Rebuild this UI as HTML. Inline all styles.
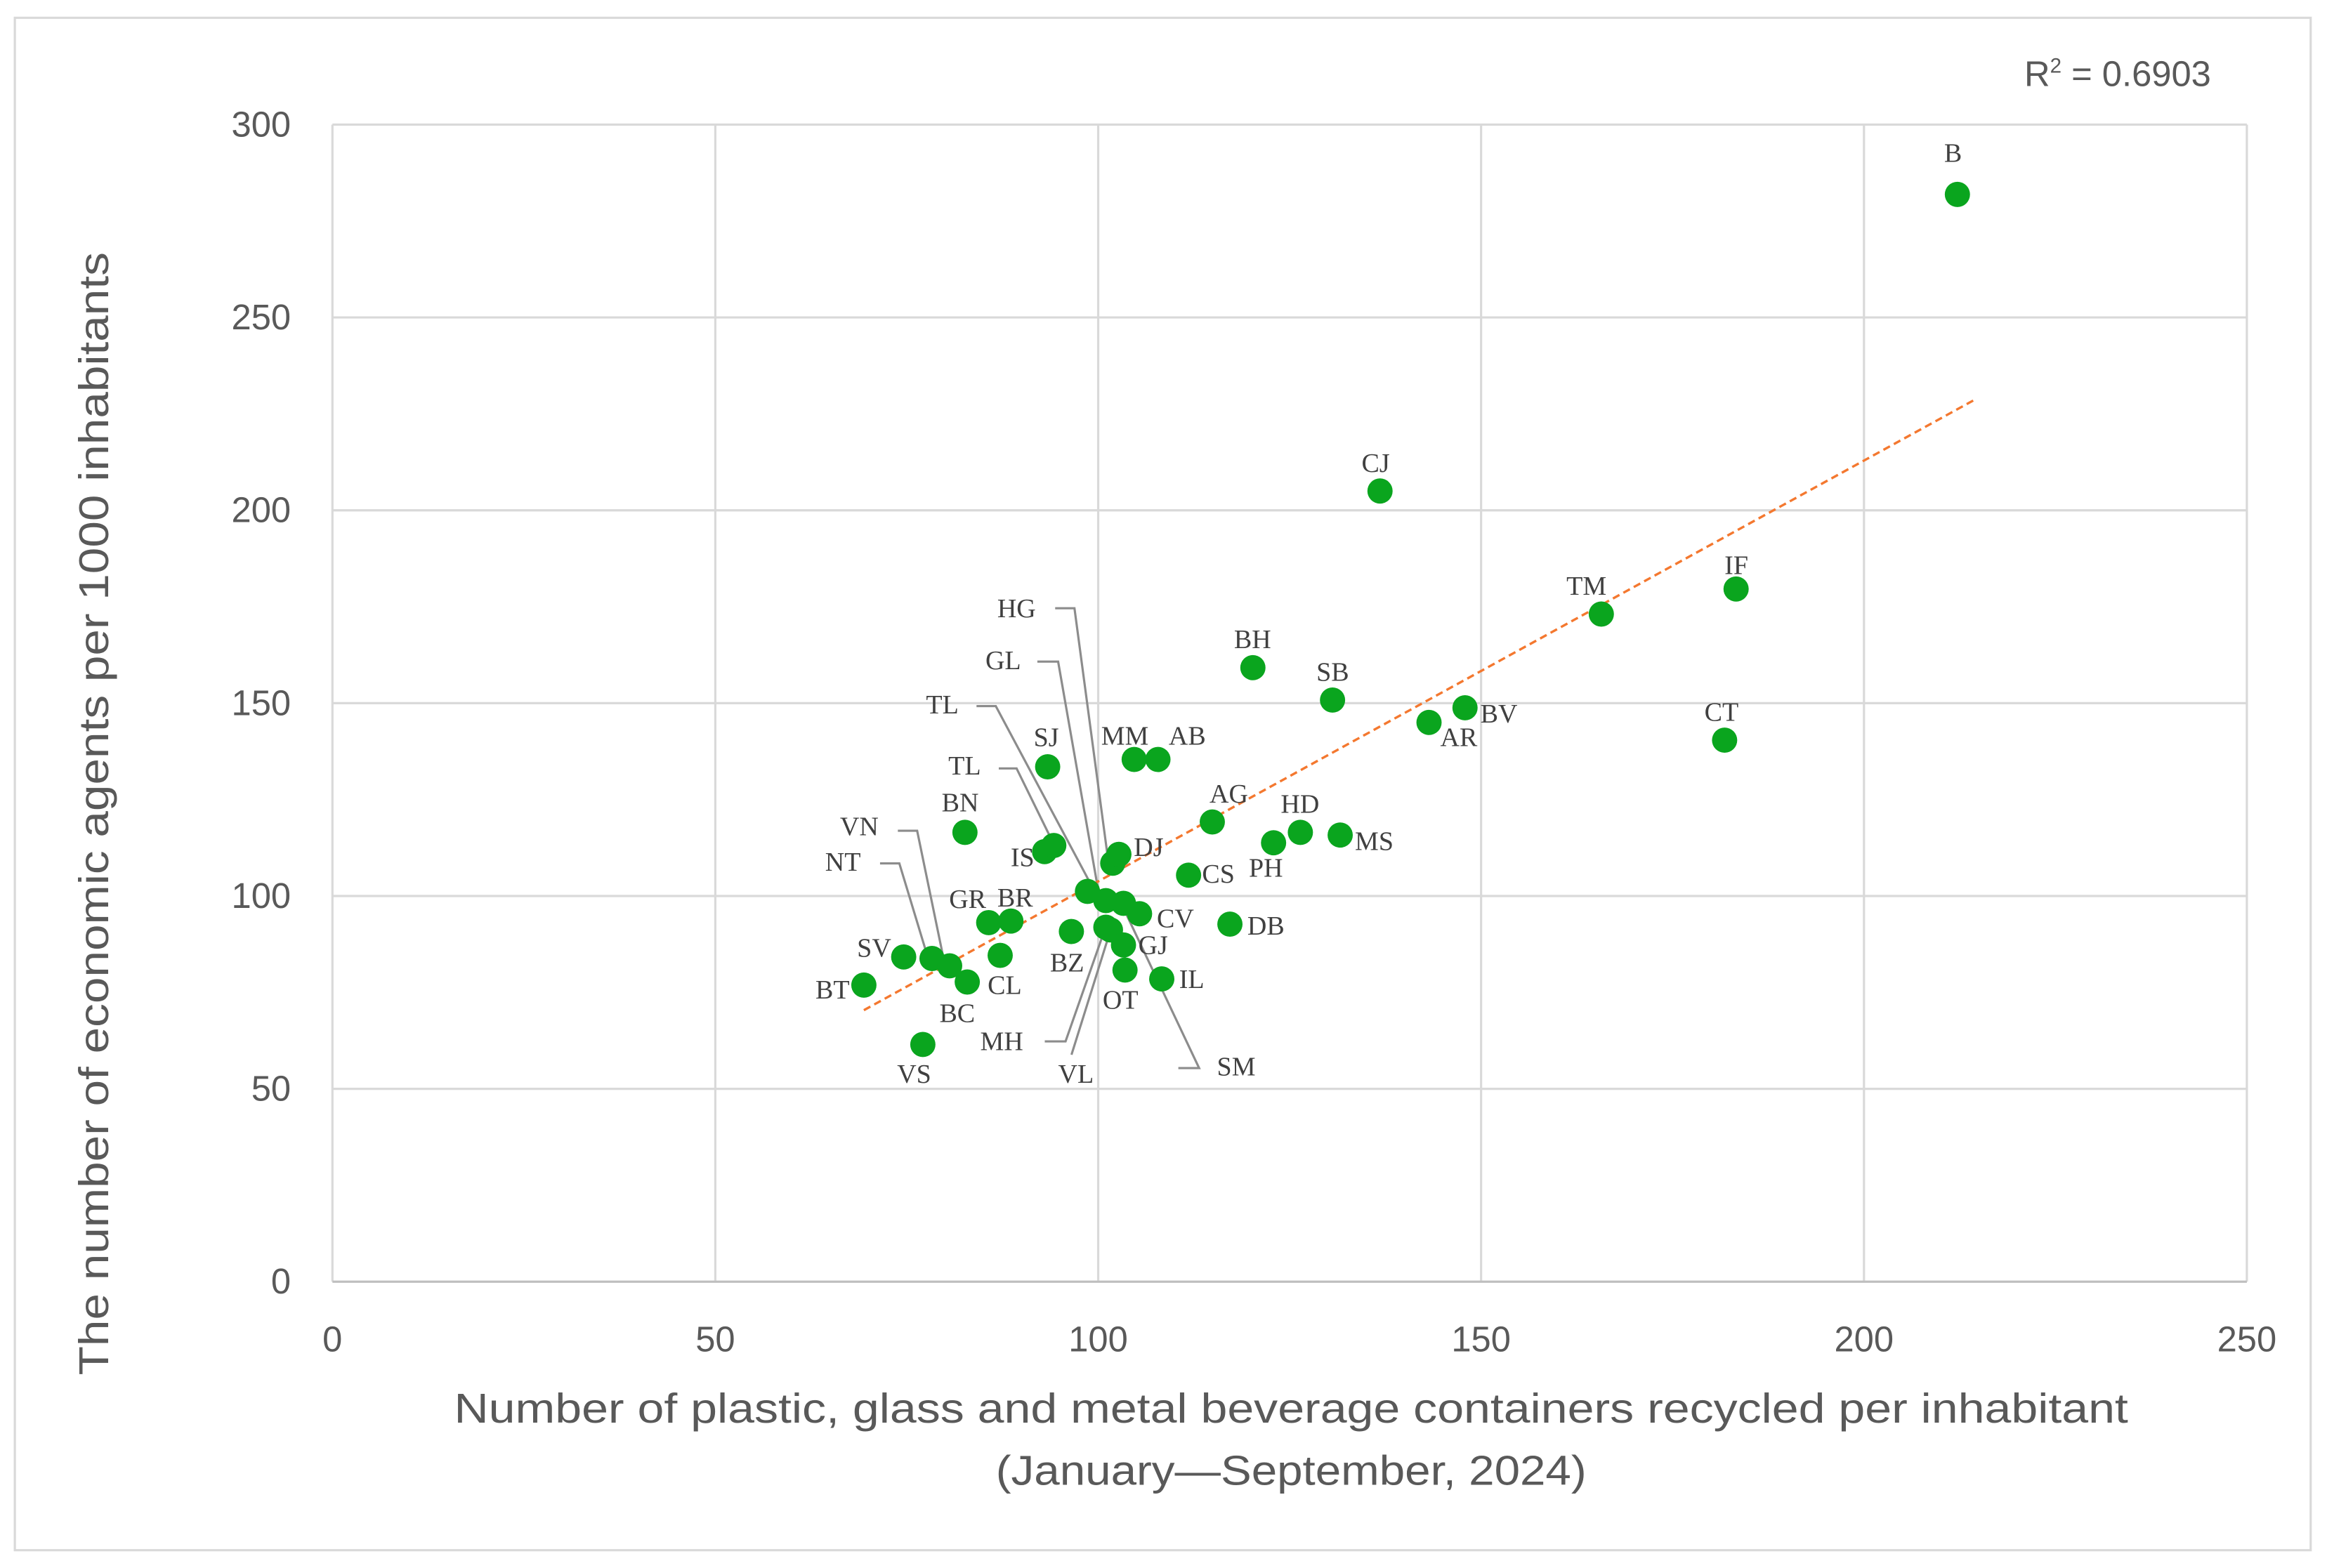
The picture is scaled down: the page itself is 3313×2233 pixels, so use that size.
<!DOCTYPE html>
<html><head><meta charset="utf-8"><style>
html,body{margin:0;padding:0;background:#fff;}
svg{display:block;}
</style></head><body>
<svg id="chart" width="3313" height="2233" viewBox="0 0 1568 1057" preserveAspectRatio="none" xmlns="http://www.w3.org/2000/svg">
<rect x="10" y="12" width="1547" height="1033" fill="#fff" stroke="#d9d9d9" stroke-width="1.5"/>
<g id="grid"></g>
<g id="ticks"></g>
<g id="leaders"></g>
<g id="trend"></g>
<g id="points"></g>
<g id="labels"></g>
<text x="1364" y="58" font-family="Liberation Sans, sans-serif" font-size="24" fill="#595959">R<tspan dy="-9" font-size="14">2</tspan><tspan dy="9"> = 0.6903</tspan></text>
<text x="306" y="959" textLength="1128" lengthAdjust="spacingAndGlyphs" font-family="Liberation Sans, sans-serif" font-size="28" fill="#595959">Number of plastic, glass and metal beverage containers recycled per inhabitant</text>
<text x="671" y="1001" textLength="398" lengthAdjust="spacingAndGlyphs" font-family="Liberation Sans, sans-serif" font-size="28" fill="#595959">(January—September, 2024)</text>
<text transform="translate(73,927) rotate(-90)" textLength="757" lengthAdjust="spacingAndGlyphs" font-family="Liberation Sans, sans-serif" font-size="28" fill="#595959">The number of economic agents per 1000 inhabitants</text>
</svg>
<script>
const xTicks = [0, 50, 100, 150, 200, 250];
const yTicks = [0, 50, 100, 150, 200, 250, 300];
const names = ["B","CJ","IF","TM","BH","SB","BV","AR","CT","MM","AB","SJ","AG","HD","MS","PH","BN","IS","TL","DJ","HG","CS","GL","TL2","SM","CV","DB","GR","BR","BZ","MH","VL","GJ","OT","IL","SV","NT","VN","CL","BT","VS","BC"];
const xValues = [212.2,136.8,183.3,165.7,120.2,130.6,147.9,143.2,181.8,104.7,107.8,93.4,114.9,126.4,131.6,122.9,82.6,93.0,94.2,101.9,102.7,111.8,98.6,101.0,103.3,105.4,117.2,85.7,88.6,96.5,101.0,101.6,103.3,103.5,108.3,74.6,78.3,80.6,82.9,69.4,77.1,87.2];
const yValues = [281.9,205.0,179.6,173.1,159.2,150.8,148.8,145.0,140.4,135.4,135.4,133.5,119.2,116.5,115.8,113.8,116.5,111.5,113.1,108.5,110.8,105.4,101.2,98.8,98.1,95.4,92.7,93.1,93.5,90.8,91.9,91.2,87.3,80.8,78.5,84.2,83.8,81.9,77.7,76.9,61.5,84.6];
const trendX = [69.4, 214.3];
const trendY = [70.4, 228.5];
const labelText = ["B","CJ","IF","TM","BH","SB","BV","AR","CT","MM","AB","SJ","AG","HD","MS","PH","BN","IS","DJ","CS","CV","DB","GR","BR","BZ","GJ","OT","IL","SV","BT","CL","BC","VS","HG","GL","TL","TL","VN","NT","MH","VL","SM"];
const labelX = [1316,927,1170,1069,844,898,1010,983,1160,758,800,705,828,876,926,853,647,689,774,821,792,853,652,684,719,777,755,803,589,561,677,645,616,685,676,635,650,579,568,675,725,833];
const labelY = [109,318,387,401,437,459,487,503,486,502,502,503,541,548,573,591,547,584,577,595,625,630,612,611,655,643,680,666,645,673,670,689,730,416,451,481,522,563,587,708,730,725];

const NS = "http://www.w3.org/2000/svg";
const X0 = 224, X1 = 1514, Y0 = 864, Y1 = 84;
function sx(v){ return X0 + (v - 0) / 250 * (X1 - X0); }
function sy(v){ return Y0 - (v - 0) / 300 * (Y0 - Y1); }
function mk(tag, attrs){ const e = document.createElementNS(NS, tag); for (const k in attrs) e.setAttribute(k, attrs[k]); return e; }

const grid = document.getElementById('grid');
const ticks = document.getElementById('ticks');
xTicks.forEach(t => {
  const l = mk('line', {x1: sx(t), x2: sx(t), y1: Y1, y2: Y0, stroke: '#d9d9d9', 'stroke-width': 1.5});
  
  
  grid.appendChild(l);
  const tx = mk('text', {x: sx(t), y: Y0 + 47, 'text-anchor': 'middle', 'font-family': 'Liberation Sans, sans-serif', 'font-size': 24, fill: '#595959'});
  tx.textContent = t;
  
  
  ticks.appendChild(tx);
});
yTicks.forEach(t => {
  const l = mk('line', {x1: X0, x2: X1, y1: sy(t), y2: sy(t), stroke: t === 0 ? '#bfbfbf' : '#d9d9d9', 'stroke-width': 1.5});
  
  
  grid.appendChild(l);
  const tx = mk('text', {x: 196, y: sy(t) + 8, 'text-anchor': 'end', 'font-family': 'Liberation Sans, sans-serif', 'font-size': 24, fill: '#595959'});
  tx.textContent = t;
  
  
  ticks.appendChild(tx);
});

const tr = mk('line', {x1: sx(trendX[0]), y1: sy(trendY[0]), x2: sx(trendX[1]), y2: sy(trendY[1]), stroke: '#f4782f', 'stroke-width': 1.6, 'stroke-dasharray': '5,3'});


document.getElementById('trend').appendChild(tr);

const leaders = [
  [[711,410],[724,410],[747,582]],
  [[699,446],[713,446],[740,600]],
  [[658,476],[671,476],[735,596]],
  [[673,518],[685,518],[712,573]],
  [[605,560],[618,560],[637,652]],
  [[593,582],[606,582],[626,648]],
  [[704,702],[718,702],[745,625]],
  [[722,711],[748,628]],
  [[794,720],[808,720],[756,610]]
];
const lg = document.getElementById('leaders');
leaders.forEach(pts => {
  const p = mk('polyline', {points: pts.map(q => q.join(',')).join(' '), fill: 'none', stroke: '#8c8c8c', 'stroke-width': 1.5});
  
  
  lg.appendChild(p);
});

const pg = document.getElementById('points');
xValues.forEach((v, i) => {
  const c = mk('circle', {cx: sx(v), cy: sy(yValues[i]), r: 8.5, fill: '#0aa51e'});
  
  
  pg.appendChild(c);
});

const lb = document.getElementById('labels');
labelText.forEach((t, i) => {
  const e = mk('text', {x: labelX[i], y: labelY[i], 'text-anchor': 'middle', 'font-family': 'Liberation Serif, serif', 'font-size': 18, fill: '#404040'});
  e.textContent = t;
  
  
  lb.appendChild(e);
});
</script>
</body></html>
